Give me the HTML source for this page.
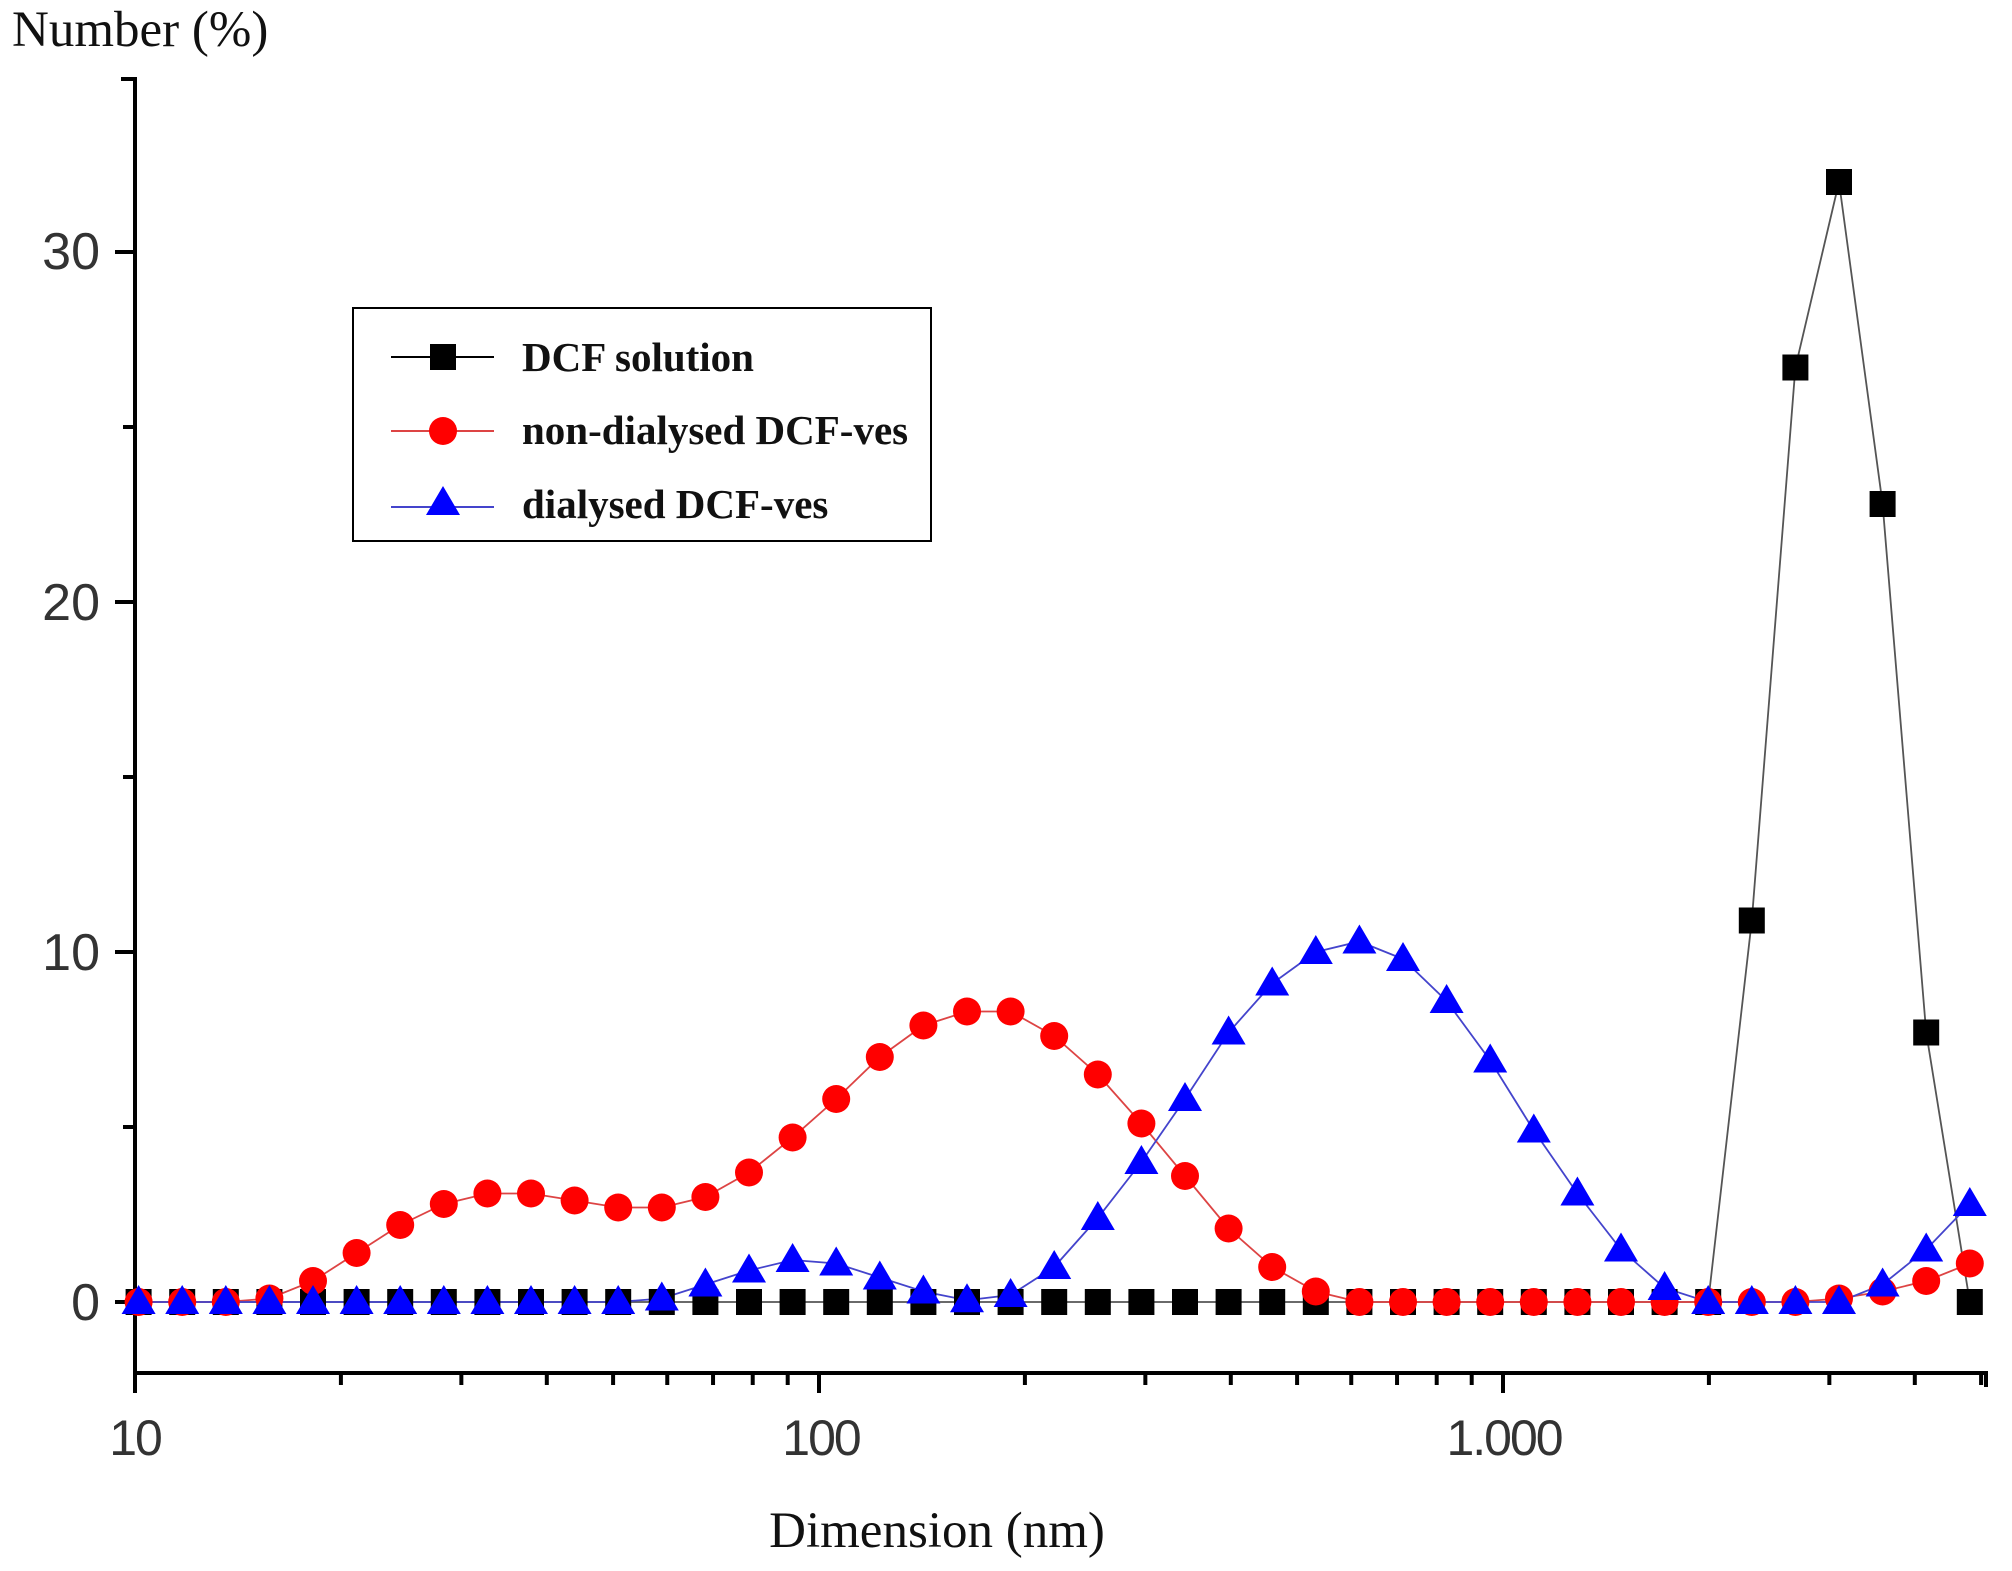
<!DOCTYPE html>
<html><head><meta charset="utf-8"><style>
html,body{margin:0;padding:0;background:#fff;width:2012px;height:1571px;overflow:hidden}
svg{display:block}
</style></head><body>
<svg id="s" width="2012" height="1571" xmlns="http://www.w3.org/2000/svg">
<text x="12" y="46" font-family="Liberation Serif, serif" font-size="51" fill="#111">Number (%)</text>
<text x="937" y="1547" text-anchor="middle" font-family="Liberation Serif, serif" font-size="51" fill="#111">Dimension (nm)</text>
<g font-family="Liberation Sans, sans-serif" font-size="52" fill="#333" text-anchor="end">
<text x="100" y="1320">0</text>
<text x="100" y="970">10</text>
<text x="100" y="620">20</text>
<text x="100" y="269">30</text>
</g>
<g font-family="Liberation Sans, sans-serif" font-size="50" fill="#333" text-anchor="middle" letter-spacing="-2">
<text x="135" y="1455">10</text>
<text x="821" y="1455">100</text>
<text x="1504" y="1455">1.000</text>
</g>
<g id="axes" stroke="#000" stroke-width="4" fill="none"></g>
<g id="data"></g>
<rect x="353" y="308" width="578" height="233" fill="#fff" stroke="#000" stroke-width="2"/>
<g id="leg"></g>
<g font-family="Liberation Serif, serif" font-size="41" font-weight="bold" fill="#111">
<text x="522" y="371">DCF solution</text>
<text x="522" y="444">non-dialysed DCF-ves</text>
<text x="522" y="518">dialysed DCF-ves</text>
</g>
</svg>
<script>
var NS="http://www.w3.org/2000/svg";
function el(p,t,a){var e=document.createElementNS(NS,t);for(var k in a)e.setAttribute(k,a[k]);p.appendChild(e);return e;}
var ax=document.getElementById('axes');
var X0=135,DEC=684,Y0=1302,U=35;
el(ax,'line',{x1:X0,y1:77,x2:X0,y2:1375});
el(ax,'line',{x1:X0-2,y1:1373,x2:1988,y2:1373});
el(ax,'line',{x1:X0-14,y1:79,x2:X0,y2:79});
for(var v=0;v<=30;v+=5){var y=Y0-v*U;el(ax,'line',{x1:X0-(v%10==0?20:12),y1:y,x2:X0,y2:y});}
for(var d=1;d<=3;d++)for(var m=1;m<=9;m++){var val=Math.pow(10,d)*m;var x=X0+(Math.log10(val)-1)*DEC;if(x>1988)break;el(ax,'line',{x1:x,y1:1373,x2:x,y2:1373+(m==1?20:12)});}
el(ax,'line',{x1:1986,y1:1373,x2:1986,y2:1387});
function xi(i){return 138.6+i*43.6;}
var black=[],red=[],blue=[];
for(var i=0;i<43;i++){black.push(0);red.push(0);blue.push(0);}
var b={37:10.9,38:26.7,39:32,40:22.8,41:7.7,42:0};for(var k in b)black[k]=b[k];
var r=[0,0,0,0.1,0.6,1.4,2.2,2.8,3.1,3.1,2.9,2.7,2.7,3.0,3.7,4.7,5.8,7.0,7.9,8.3,8.3,7.6,6.5,5.1,3.6,2.1,1.0,0.3,0,0,0,0,0,0,0,0,0,0,0,0.1,0.3,0.6,1.1];
var bl=[0,0,0,0,0,0,0,0,0,0,0,0,0.1,0.5,0.9,1.2,1.1,0.7,0.3,0.05,0.2,1.0,2.4,4.0,5.8,7.7,9.1,10.0,10.3,9.8,8.6,6.9,4.9,3.1,1.5,0.4,0,0,0,0,0.5,1.5,2.8];
var g=document.getElementById('data');
function poly(arr,col){var p=[];for(var i=0;i<43;i++)p.push(xi(i)+','+(Y0-arr[i]*U));el(g,'polyline',{points:p.join(' '),fill:'none',stroke:col,'stroke-width':1.8});}
function sq(p,x,y){el(p,'rect',{x:x-13,y:y-13,width:26,height:26,fill:'#000'});}
function ci(p,x,y){el(p,'circle',{cx:x,cy:y,r:14,fill:'#f00'});}
function tr(p,x,y){el(p,'polygon',{points:(x)+','+(y-17)+' '+(x-17)+','+(y+12)+' '+(x+17)+','+(y+12),fill:'#00f'});}
poly(black,'#555');poly(r,'#d44');poly(bl,'#44c');
for(var i=0;i<43;i++)sq(g,xi(i),Y0-black[i]*U);
for(var i=0;i<43;i++)ci(g,xi(i),Y0-r[i]*U);
for(var i=0;i<43;i++)tr(g,xi(i),Y0-bl[i]*U);
var L=document.getElementById('leg');
el(L,'line',{x1:391,y1:357,x2:494,y2:357,stroke:'#000','stroke-width':2});sq(L,443,357);
el(L,'line',{x1:391,y1:431,x2:494,y2:431,stroke:'#d44','stroke-width':2});ci(L,443,431);
el(L,'line',{x1:391,y1:507,x2:494,y2:507,stroke:'#44c','stroke-width':2});tr(L,443,503);
</script>
</body></html>
